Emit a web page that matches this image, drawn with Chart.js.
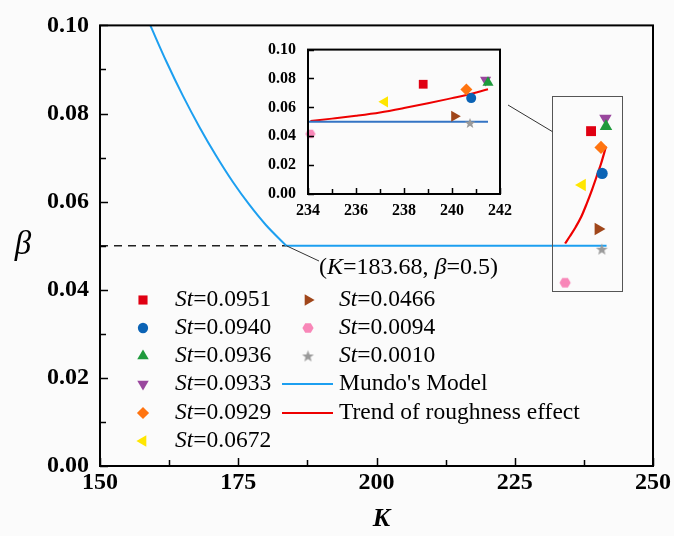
<!DOCTYPE html>
<html>
<head>
<meta charset="utf-8">
<script src="https://cdn.jsdelivr.net/npm/chart.js@4/dist/chart.umd.min.js"></script>
<style>
    html, body { margin: 0; padding: 0; background: #fbfbfb; }
    #wrap { position: relative; width: 674px; height: 536px; }
    #main { position: absolute; left: 0; top: 0; }
    #inset { position: absolute; left: 230px; top: 28px; }
</style>
</head>
<body>
<div id="wrap">
    <canvas id="main" width="674" height="536"></canvas>
    <canvas id="inset" width="290" height="200"></canvas>
</div>
<script>
// ---- data ----
const stLabels = ['0.0951', '0.0940', '0.0936', '0.0933', '0.0929', '0.0672', '0.0466', '0.0094', '0.0010'];
const stK = [238.8, 240.8, 241.5, 241.4, 240.6, 237.2, 240.1, 234.1, 240.75];
const stBeta = [0.0760, 0.0664, 0.0771, 0.0789, 0.0723, 0.0638, 0.0538, 0.0416, 0.0492];

// Mundo's model: falling branch, then flat at beta = 0.05
const mundoCurveK = [159.1, 162, 165, 168, 171, 174, 177, 180, 183.68];
const mundoCurveBeta = [0.100, 0.0918, 0.0840, 0.0769, 0.0704, 0.0645, 0.0593, 0.0547, 0.050];
const mundoFlatK = [183.68, 241.6];
const mundoFlatBeta = [0.050, 0.050];
const insetMundoK = [234.0, 241.5];

// critical point (dashed reference line)
const criticalK = [150, 183.68];
const criticalBeta = [0.050, 0.050];

// trend of roughness effect
const trendK = [234.1, 235, 236, 237, 238, 239, 240, 240.6, 241.5];
const trendBeta = [0.0505, 0.0522, 0.0542, 0.0565, 0.0595, 0.0628, 0.0664, 0.0686, 0.0725];

// zoom window drawn on the main plot
const zoomK = [231.8, 244.4];
const zoomBeta = [0.0396, 0.0839];

// tick labels
const mainXTicks = [150, 175, 200, 225, 250];
const mainYTicks = [0, 0.02, 0.04, 0.06, 0.08, 0.10];
const insetXTicks = [234, 236, 238, 240, 242];
const insetYTicks = [0, 0.02, 0.04, 0.06, 0.08, 0.10];

// ---- styles ----
Chart.defaults.font.family = '"Liberation Serif", "Times New Roman", serif';
const SERIF = '"Liberation Serif", "Times New Roman", serif';

// custom filled marker images (hexagon, star)
const makeHexagon = (r, color) => {
    const c = document.createElement('canvas');
    c.width = c.height = Math.ceil(r * 2 + 2);
    const g = c.getContext('2d');
    const cx = c.width / 2, cy = c.height / 2;
    g.beginPath();
    for (let i = 0; i < 6; i++) {
        const a = Math.PI / 3 * i;
        g.lineTo(cx + r * Math.cos(a), cy + r * Math.sin(a));
    }
    g.closePath();
    g.fillStyle = color;
    g.fill();
    return c;
};
const makeStar = (r, color) => {
    const c = document.createElement('canvas');
    c.width = c.height = Math.ceil(r * 2 + 2);
    const g = c.getContext('2d');
    const cx = c.width / 2, cy = c.height / 2 + 0.5;
    g.beginPath();
    for (let i = 0; i < 10; i++) {
        const rr = i % 2 ? r * 0.42 : r;
        const a = -Math.PI / 2 + Math.PI / 5 * i;
        g.lineTo(cx + rr * Math.cos(a), cy + rr * Math.sin(a));
    }
    g.closePath();
    g.fillStyle = color;
    g.fill();
    return c;
};

const markerStyles = [
    { pointStyle: 'rect', rotation: 0, radius: 7, color: '#e00012' },
    { pointStyle: 'circle', rotation: 0, radius: 5.6, color: '#0b63b5' },
    { pointStyle: 'triangle', rotation: 0, radius: 7.2, color: '#1f9a3c' },
    { pointStyle: 'triangle', rotation: 180, radius: 7.2, color: '#9a479e' },
    { pointStyle: 'rectRot', rotation: 0, radius: 6.6, color: '#ff7410' },
    { pointStyle: 'triangle', rotation: -90, radius: 7.2, color: '#ffe600' },
    { pointStyle: 'triangle', rotation: 90, radius: 7.2, color: '#a0461a' },
    { pointStyle: makeHexagon(5.6, '#f887b8'), rotation: 0, radius: 6, color: '#f887b8' },
    { pointStyle: makeStar(6.2, '#9a9a9a'), rotation: 0, radius: 6, color: '#9a9a9a' }
];
const insetMarkers = [
    { pointStyle: 'rect', rotation: 0, radius: 6.2 },
    { pointStyle: 'circle', rotation: 0, radius: 5 },
    { pointStyle: 'triangle', rotation: 0, radius: 6.4 },
    { pointStyle: 'triangle', rotation: 180, radius: 6.4 },
    { pointStyle: 'rectRot', rotation: 0, radius: 6 },
    { pointStyle: 'triangle', rotation: -90, radius: 6.4 },
    { pointStyle: 'triangle', rotation: 90, radius: 6.4 },
    { pointStyle: makeHexagon(5, '#f887b8'), rotation: 0, radius: 5 },
    { pointStyle: makeStar(5.6, '#9a9a9a'), rotation: 0, radius: 5 }
];

const MUNDO_COLOR = '#1c9ff0';
const INSET_MUNDO_COLOR = '#3474c4';
const TREND_COLOR = '#ee0000';

const toPoints = (xs, ys) => xs.map((x, i) => ({ x: x, y: ys[i] }));

const pointDatasets = (markers) => stLabels.map((lab, i) => ({
    label: 'St=' + lab,
    data: [{ x: stK[i], y: stBeta[i] }],
    pointStyle: markers[i].pointStyle,
    rotation: markers[i].rotation,
    pointRadius: markers[i].radius,
    backgroundColor: markerStyles[i].color,
    borderWidth: 0,
    clip: false
}));

const lineDataset = (label, pts, color, width, extra) => Object.assign({
    label: label,
    data: pts,
    showLine: true,
    pointRadius: 0,
    borderColor: color,
    borderWidth: width,
    fill: false,
    clip: false
}, extra || {});

// draw mixed italic / regular text pieces
const drawRich = (ctx, pieces, x, y, size) => {
    ctx.textBaseline = 'middle';
    ctx.textAlign = 'left';
    ctx.fillStyle = '#000';
    let cx = x;
    pieces.forEach(([txt, italic]) => {
        ctx.font = (italic ? 'italic ' : '') + size + 'px ' + SERIF;
        ctx.fillText(txt, cx, y);
        cx += ctx.measureText(txt).width;
    });
};

// inward tick marks + frame
const drawFrameAndTicks = (chart, xMinorStep, xMajorStep, yMinorStep, yMajorStep, majorLen, minorLen) => {
    const { ctx, chartArea: a, scales: { x, y } } = chart;
    ctx.save();
    ctx.strokeStyle = '#000';
    ctx.lineWidth = 1.5;
    ctx.beginPath();
    for (let v = x.min; v <= x.max + 1e-9; v += xMinorStep) {
        const px = Math.round(x.getPixelForValue(v)) + 0.5;
        const isMajor = Math.abs((v - x.min) / xMajorStep - Math.round((v - x.min) / xMajorStep)) < 1e-6;
        const len = isMajor ? majorLen : minorLen;
        ctx.moveTo(px, a.bottom);
        ctx.lineTo(px, a.bottom - len);
    }
    for (let v = y.min; v <= y.max + 1e-9; v += yMinorStep) {
        const py = Math.round(y.getPixelForValue(v)) + 0.5;
        const isMajor = Math.abs((v - y.min) / yMajorStep - Math.round((v - y.min) / yMajorStep)) < 1e-6;
        const len = isMajor ? majorLen : minorLen;
        ctx.moveTo(a.left, py);
        ctx.lineTo(a.left + len, py);
    }
    ctx.stroke();
    ctx.lineWidth = 2;
    ctx.strokeRect(a.left, a.top, a.right - a.left, a.bottom - a.top);
    ctx.restore();
};

const mainDecor = {
    id: 'mainDecor',
    afterDraw(chart) {
        const { ctx, chartArea: a, scales: { x, y } } = chart;
        drawFrameAndTicks(chart, 12.5, 25, 0.01, 0.02, 8, 6);

        ctx.save();
        // zoom window
        const bx0 = x.getPixelForValue(zoomK[0]), bx1 = x.getPixelForValue(zoomK[1]);
        const by0 = y.getPixelForValue(zoomBeta[1]), by1 = y.getPixelForValue(zoomBeta[0]);
        ctx.strokeStyle = '#555';
        ctx.lineWidth = 1;
        ctx.strokeRect(Math.round(bx0) + 0.5, Math.round(by0) + 0.5, Math.round(bx1 - bx0), Math.round(by1 - by0));
        // connector from inset to zoom window
        ctx.strokeStyle = '#333';
        ctx.beginPath();
        ctx.moveTo(508, 105);
        ctx.lineTo(bx0, y.getPixelForValue(0.0759));
        ctx.stroke();

        // critical point annotation
        const cx = x.getPixelForValue(criticalK[1]), cy = y.getPixelForValue(criticalBeta[1]);
        ctx.beginPath();
        ctx.moveTo(cx, cy);
        ctx.lineTo(319, 261);
        ctx.stroke();
        drawRich(ctx, [['(', false], ['K', true], ['=183.68, ', false], ['β', true], ['=0.5)', false]], 319, 268, 24);

        // legend
        const rowY = [300, 328, 356, 384, 413, 441];
        const helpers = Chart.helpers;
        const marker = (i, mx, my) => {
            const m = markerStyles[i];
            ctx.fillStyle = m.color;
            helpers.drawPoint(ctx, { pointStyle: m.pointStyle, rotation: m.rotation, radius: m.radius * 0.92, borderWidth: 0 }, mx, my);
        };
        const FS = 23.5;
        for (let i = 0; i < 6; i++) {
            marker(i, 143, rowY[i]);
            drawRich(ctx, [['St', true], ['=' + stLabels[i], false]], 175, rowY[i], FS);
        }
        for (let i = 6; i < 9; i++) {
            marker(i, 308, rowY[i - 6]);
            drawRich(ctx, [['St', true], ['=' + stLabels[i], false]], 339, rowY[i - 6], FS);
        }
        ctx.lineWidth = 2;
        ctx.strokeStyle = MUNDO_COLOR;
        ctx.beginPath(); ctx.moveTo(282, rowY[3]); ctx.lineTo(333, rowY[3]); ctx.stroke();
        drawRich(ctx, [["Mundo's Model", false]], 339, rowY[3], FS);
        ctx.strokeStyle = TREND_COLOR;
        ctx.beginPath(); ctx.moveTo(282, rowY[4]); ctx.lineTo(333, rowY[4]); ctx.stroke();
        drawRich(ctx, [['Trend of roughness effect', false]], 339, rowY[4], FS);

        // axis titles
        ctx.fillStyle = '#000';
        ctx.textAlign = 'center';
        ctx.textBaseline = 'middle';
        ctx.font = 'italic 33px ' + SERIF;
        ctx.fillText('β', 23, 245);
        ctx.font = 'italic bold 26px ' + SERIF;
        ctx.fillText('K', (a.left + a.right) / 2 + 5, 519);
        ctx.restore();
    }
};

const insetDecor = {
    id: 'insetDecor',
    afterDraw(chart) {
        drawFrameAndTicks(chart, 1, 2, 0.02, 0.02, 6, 5);
    }
};

const axisCommon = (ticksList, fmt, size, padding) => ({
    type: 'linear',
    grid: { display: false, drawTicks: false },
    border: { display: false },
    afterBuildTicks: s => { s.ticks = ticksList.map(v => ({ value: v })); },
    ticks: {
        padding: padding,
        color: '#000',
        font: { size: size, weight: 'bold' },
        maxRotation: 0,
        autoSkip: false,
        callback: fmt
    }
});

document.addEventListener('DOMContentLoaded', () => {
    // ---- main chart ----
    const mainX = axisCommon(mainXTicks, v => String(v), 24, 2);
    mainX.min = 150; mainX.max = 250;
    mainX.afterFit = s => { s.height = 70; };
    const mainY = axisCommon(mainYTicks, v => Number(v).toFixed(2), 24, 11);
    mainY.min = 0; mainY.max = 0.1;
    mainY.afterFit = s => { s.width = 100; };

    new Chart(document.getElementById('main'), {
        type: 'scatter',
        data: {
            datasets: [
                ...pointDatasets(markerStyles),
                lineDataset("Mundo's Model", toPoints(mundoCurveK, mundoCurveBeta), MUNDO_COLOR, 2, { cubicInterpolationMode: 'monotone' }),
                lineDataset("Mundo's Model (flat)", toPoints(mundoFlatK, mundoFlatBeta), MUNDO_COLOR, 2),
                lineDataset('critical', toPoints(criticalK, criticalBeta), '#222', 1.5, { borderDash: [8, 6] }),
                lineDataset('Trend of roughness effect', toPoints(trendK, trendBeta), TREND_COLOR, 2.2, { cubicInterpolationMode: 'monotone' })
            ]
        },
        options: {
            responsive: false,
            animation: false,
            events: [],
            layout: { padding: { top: 20, right: 21, left: 0, bottom: 0 } },
            plugins: { legend: { display: false }, tooltip: { enabled: false } },
            scales: { x: mainX, y: mainY }
        },
        plugins: [mainDecor]
    });

    // ---- inset chart ----
    const inX = axisCommon(insetXTicks, v => String(v), 16, 7);
    inX.min = 234; inX.max = 242;
    inX.afterFit = s => { s.height = 34; };
    const inY = axisCommon(insetYTicks, v => Number(v).toFixed(2), 16, 12);
    inY.min = 0; inY.max = 0.1;
    inY.afterFit = s => { s.width = 78; };

    new Chart(document.getElementById('inset'), {
        type: 'scatter',
        data: {
            datasets: [
                ...pointDatasets(insetMarkers),
                lineDataset("Mundo's Model", toPoints(insetMundoK, mundoFlatBeta), INSET_MUNDO_COLOR, 2),
                lineDataset('Trend of roughness effect', toPoints(trendK, trendBeta), TREND_COLOR, 2, { cubicInterpolationMode: 'monotone' })
            ]
        },
        options: {
            responsive: false,
            animation: false,
            events: [],
            layout: { padding: { top: 20, right: 20, left: 0, bottom: 0 } },
            plugins: { legend: { display: false }, tooltip: { enabled: false } },
            scales: { x: inX, y: inY }
        },
        plugins: [insetDecor]
    });
});
</script>
</body>
</html>
